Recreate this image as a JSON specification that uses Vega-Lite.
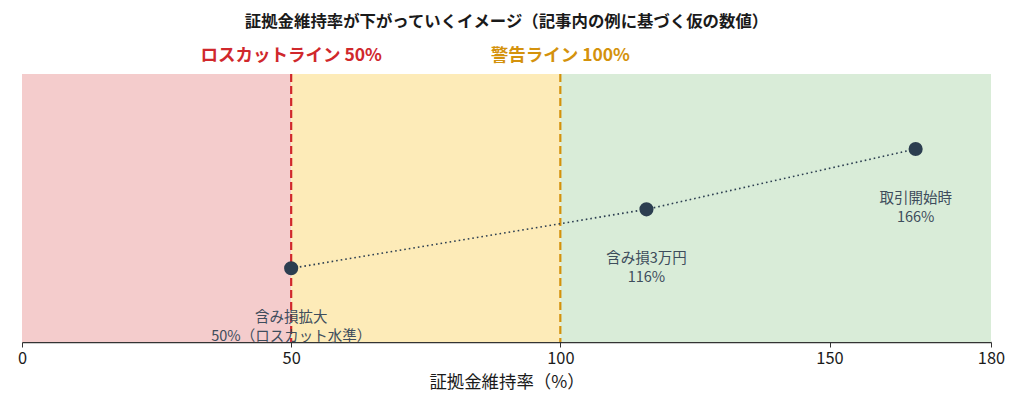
{
  "$schema": "https://vega.github.io/schema/vega-lite/v6.json",
  "width": 969,
  "height": 268,
  "autosize": "none",
  "padding": {"left": 22, "top": 74, "right": 33, "bottom": 68},
  "background": "white",
  "title": {
    "text": "証拠金維持率が下がっていくイメージ（記事内の例に基づく仮の数値）",
    "font": "Noto Sans CJK JP",
    "fontSize": 16.4,
    "fontWeight": "bold",
    "color": "#1a1a1a",
    "anchor": "middle",
    "offset": 17
  },
  "layer": [
    {
      "data": {
        "values": [
          {"x0": 0, "x1": 50, "zone": "loss"},
          {"x0": 50, "x1": 100, "zone": "warn"},
          {"x0": 100, "x1": 180, "zone": "safe"}
        ]
      },
      "mark": {"type": "rect"},
      "encoding": {
        "x": {"field": "x0", "type": "quantitative"},
        "x2": {"field": "x1"},
        "color": {
          "field": "zone",
          "type": "nominal",
          "scale": {"domain": ["loss", "warn", "safe"], "range": ["#f4cccc", "#fdebb8", "#d9ecd8"]},
          "legend": null
        }
      }
    },
    {
      "data": {
        "values": [
          {"x": 50, "line": "ロスカットライン 50%", "c": "loss"},
          {"x": 100, "line": "警告ライン 100%", "c": "warn"}
        ]
      },
      "layer": [
        {
          "mark": {"type": "rule", "strokeWidth": 2.2, "strokeDash": [8, 4]},
          "encoding": {
            "x": {"field": "x", "type": "quantitative"},
            "stroke": {
              "field": "c",
              "type": "nominal",
              "scale": {"domain": ["loss", "warn"], "range": ["#d0282c", "#d4920c"]},
              "legend": null
            }
          }
        },
        {
          "mark": {
            "type": "text",
            "font": "Noto Sans CJK JP",
            "fontSize": 17.5,
            "fontWeight": "bold",
            "baseline": "middle",
            "dy": -18,
            "clip": false
          },
          "encoding": {
            "x": {"field": "x", "type": "quantitative"},
            "y": {"datum": 1, "type": "quantitative"},
            "text": {"field": "line"},
            "color": {
              "field": "c",
              "type": "nominal",
              "scale": {"domain": ["loss", "warn"], "range": ["#d0282c", "#d4920c"]},
              "legend": null
            }
          }
        }
      ]
    },
    {
      "data": {
        "values": [
          {"rate": 166, "y": 0.72, "order": 1, "label": "取引開始時\n166%"},
          {"rate": 116, "y": 0.495, "order": 2, "label": "含み損3万円\n116%"},
          {"rate": 50, "y": 0.275, "order": 3, "label": "含み損拡大\n50%（ロスカット水準）"}
        ]
      },
      "layer": [
        {
          "mark": {"type": "line", "color": "#2c3e50", "strokeWidth": 1.6, "strokeDash": [1.6, 3]},
          "encoding": {
            "x": {"field": "rate", "type": "quantitative"},
            "y": {"field": "y", "type": "quantitative"},
            "order": {"field": "order"}
          }
        },
        {
          "mark": {"type": "circle", "color": "#2c3e50", "opacity": 1, "size": 200},
          "encoding": {
            "x": {"field": "rate", "type": "quantitative"},
            "y": {"field": "y", "type": "quantitative"}
          }
        },
        {
          "mark": {
            "type": "text",
            "font": "Noto Sans CJK JP",
            "fontSize": 14.5,
            "color": "#3e4d5c",
            "baseline": "middle",
            "align": "center",
            "lineBreak": "\n",
            "lineHeight": 19
          },
          "encoding": {
            "x": {"field": "rate", "type": "quantitative"},
            "y": {"field": "y", "type": "quantitative"},
            "yOffset": {"value": 50},
            "text": {"field": "label"}
          }
        }
      ]
    }
  ],
  "resolve": {"scale": {"color": "independent", "stroke": "independent"}},
  "encoding": {
    "x": {
      "type": "quantitative",
      "scale": {"domain": [0, 180], "nice": false, "zero": false},
      "axis": {
        "values": [0, 50, 100, 150, 180],
        "title": "証拠金維持率（%）",
        "titleFont": "Noto Sans CJK JP",
        "titleFontSize": 17.4,
        "titleFontWeight": "normal",
        "titleColor": "#1a1a1a",
        "titlePadding": 7,
        "labelFont": "Noto Sans CJK JP",
        "labelFontSize": 16.4,
        "labelColor": "#1a1a1a",
        "labelPadding": 3,
        "labelFlush": false,
        "grid": false,
        "domainColor": "#333333",
        "domainWidth": 1.3,
        "tickColor": "#333333",
        "tickSize": 5
      }
    },
    "y": {
      "type": "quantitative",
      "scale": {"domain": [0, 1]},
      "axis": null
    }
  },
  "config": {
    "view": {"stroke": null}
  }
}
